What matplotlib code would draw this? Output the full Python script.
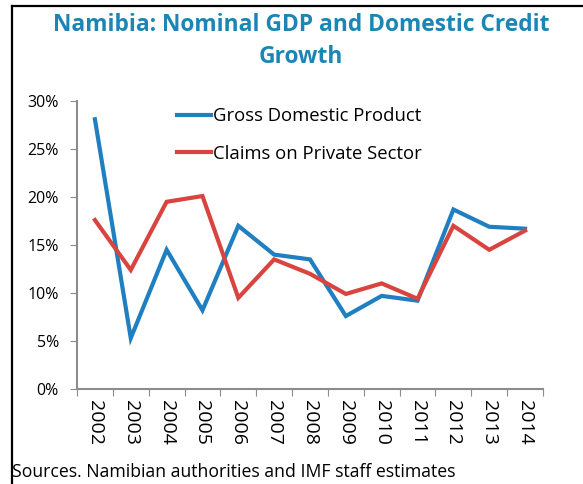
import numpy as np
import matplotlib.pyplot as plt
from matplotlib.lines import Line2D

plt.rcParams['font.family'] = ['Open Sans', 'DejaVu Sans']

# Data (percent)
years = ["2002", "2003", "2004", "2005", "2006", "2007", "2008",
         "2009", "2010", "2011", "2012", "2013", "2014"]
gdp = [28.1, 5.3, 14.5, 8.2, 17.0, 14.0, 13.5, 7.6, 9.7, 9.2, 18.7, 16.9, 16.7]
credit = [17.6, 12.4, 19.5, 20.1, 9.5, 13.5, 12.0, 9.9, 11.0, 9.4, 17.0, 14.5, 16.5]
yticks = [0, 5, 10, 15, 20, 25, 30]

blue = "#1f7fc0"
red = "#d9443f"
grey = "#8c8c8c"

fig = plt.figure(figsize=(5.83, 4.84), dpi=100)
ax = fig.add_axes([77/583, 1 - 389/484, 466/583, 288/484])

x = np.arange(len(years))
ax.plot(x, gdp, color=blue, lw=3, solid_joinstyle="miter", label="Gross Domestic Product")
ax.plot(x, credit, color=red, lw=3, solid_joinstyle="miter", label="Claims on Private Sector")

ax.set_xlim(-0.5, len(years) - 0.5)
ax.set_ylim(0, 30)
ax.set_yticks(yticks)
ax.set_yticklabels([f"{v}%" for v in yticks], fontsize=11.5)
ax.set_xticks(np.arange(len(years) + 1) - 0.5)
ax.set_xticklabels([])
ax.set_xticks(x, minor=True)
ax.set_xticklabels(years, minor=True, rotation=270, fontsize=14)
ax.tick_params(axis="x", which="minor", length=0, pad=8)
ax.tick_params(axis="x", which="major", length=5, color=grey, direction="out")
ax.tick_params(axis="y", length=5, color=grey, pad=8)

for s in ["top", "right"]:
    ax.spines[s].set_visible(False)
for s in ["left", "bottom"]:
    ax.spines[s].set_color(grey)
    ax.spines[s].set_linewidth(1.5)

ax.legend(loc="upper left", bbox_to_anchor=(0.214, 0.978), frameon=False,
          borderaxespad=0, borderpad=0,
          fontsize=13.3, handlelength=1.85, handletextpad=0.1, labelspacing=1.05)

fig.text(301/583, 1 - 25/484, "Namibia: Nominal GDP and Domestic Credit",
         ha="center", va="center", fontsize=16.4, fontweight="bold", color="#1b86b6")
fig.text(301/583, 1 - 57/484, "Growth",
         ha="center", va="center", fontsize=16.4, fontweight="bold", color="#1b86b6")
fig.text(12/583, 1 - 472/484, "Sources. Namibian authorities and IMF staff estimates",
         ha="left", va="center", fontsize=12.7)

# frame lines at top and left of the panel
fig.add_artist(Line2D([11.5/583, 11.5/583], [0, 1 - 5.5/484], color="black", lw=1.6,
                      transform=fig.transFigure))
fig.add_artist(Line2D([11.5/583, 1], [1 - 5.5/484, 1 - 5.5/484], color="black", lw=1.6,
                      transform=fig.transFigure))

fig.savefig("out.png", dpi=100)
